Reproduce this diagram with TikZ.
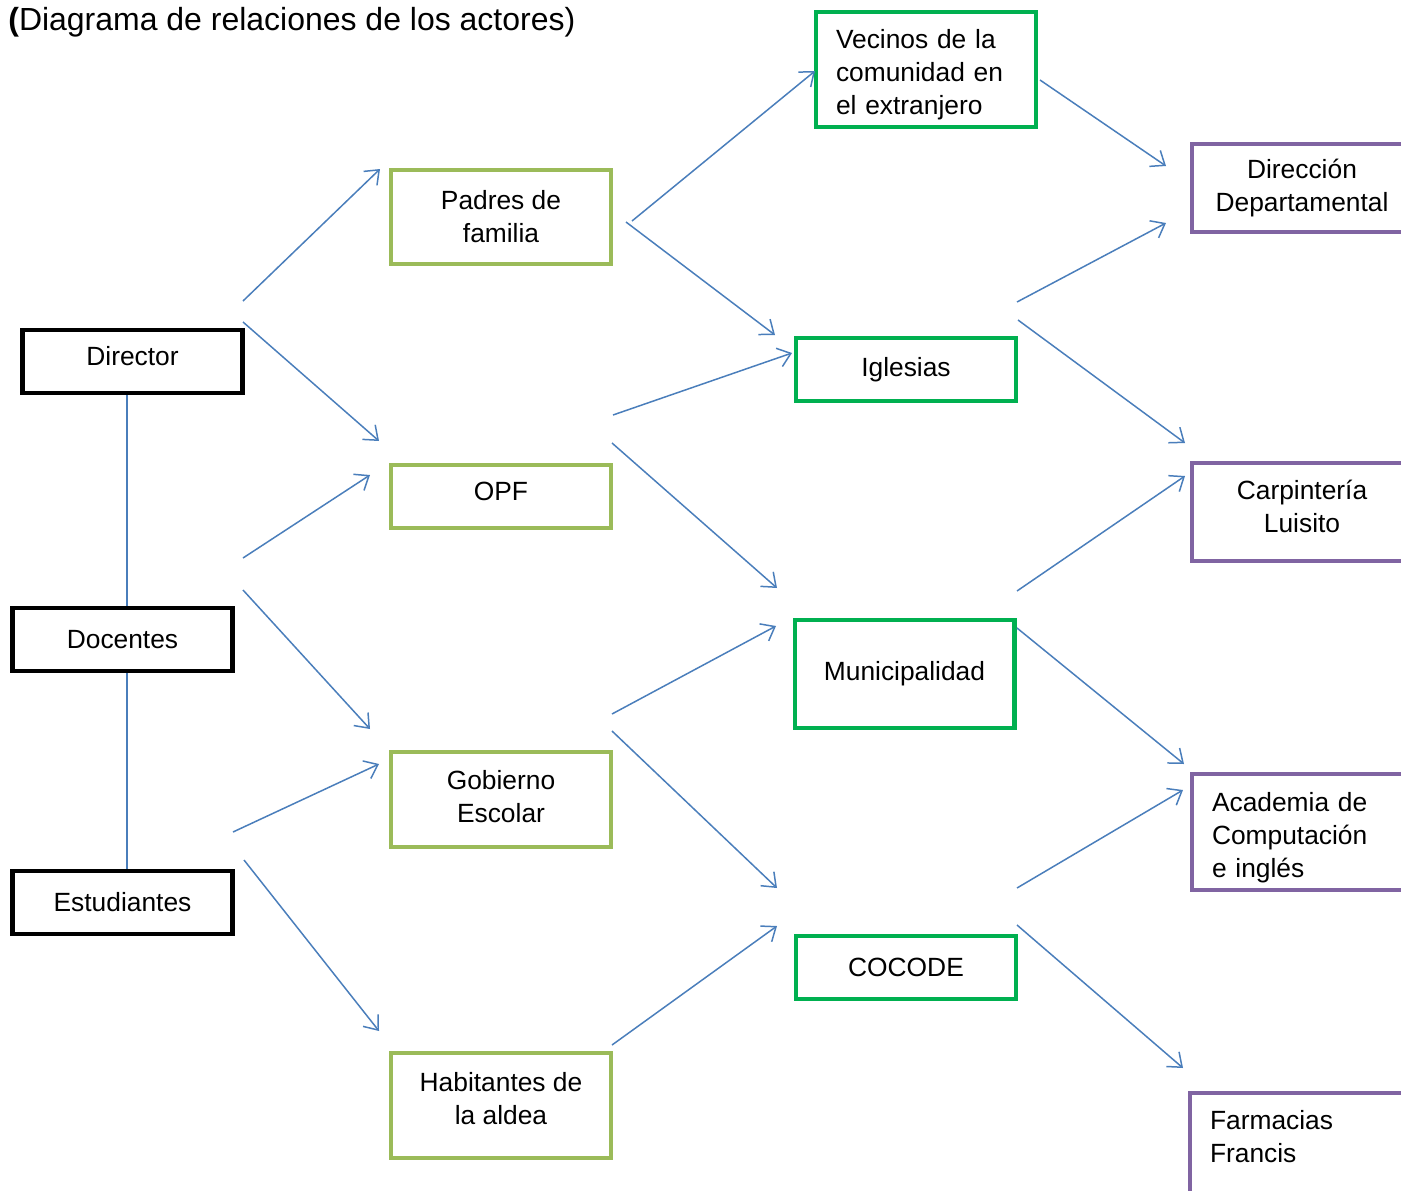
\documentclass[tikz,border=0pt]{standalone}
\usepackage{fontspec}
\setmainfont{Liberation Sans}
\usepackage{xcolor}
\usepackage{tikz}
\usetikzlibrary{positioning}
\usetikzlibrary{arrows.meta}

\definecolor{linkblue}{HTML}{4A7EBB}
\definecolor{leafgreen}{HTML}{9BBB59}
\definecolor{brightgreen}{HTML}{00B050}
\definecolor{lilac}{HTML}{8064A2}

\tikzset{
	actor/.style={draw,minimum width=4.4cm,minimum height=1.26cm,align=center,inner sep=2pt,
		font=\fontsize{15}{18.7}\selectfont},
	school/.style={actor,line width=2.8pt,draw=black},
	family/.style={actor,line width=2.2pt,draw=leafgreen},
	local/.style={actor,line width=2.3pt,draw=brightgreen},
	outside/.style={actor,line width=2.4pt,draw=lilac},
	leftbox/.style={text width=3.6cm,inner xsep=0.4cm,align=left},
	link/.style={linkblue,line width=0.85pt},
	relation/.style={link,-{Straight Barb[length=7pt,width=11pt]}}
}

\begin{document}
\begin{tikzpicture}[x=0.02cm,y=-0.02cm]
	\useasboundingbox (0,0) rectangle (1401,1191);
	\clip (0,0) rectangle (1401,1191);

	\node (title) [anchor=base west,inner sep=0pt,font=\fontsize{18.2}{22}\selectfont] at (8,30)
		{{\bfseries (}Diagrama de relaciones de los actores)};

	% escuela
	\node (director)	[school,text depth=6pt]	at (132.5,361.5)	{Director};
	\node (docentes)	[school]	at (122.5,639.5)	{Docentes};
	\node (estudiantes)	[school]	at (122.5,902.5)	{Estudiantes};

	% comunidad educativa
	\node (padres)		[family,minimum height=1.88cm]					at (501,217)	{Padres de\\familia};
	\node (opf)			[family,text depth=6pt]							at (501,496.5)	{OPF};
	\node (gobierno)	[family,minimum height=1.9cm,text depth=3.4pt]	at (501,799.5)	{Gobierno\\Escolar};
	\node (habitantes)	[family,minimum height=2.1cm,text depth=8pt]	at (501,1105.5)	{Habitantes de\\la aldea};

	% comunidad local
	\node (vecinos)		[local,leftbox,minimum height=2.3cm,text depth=35pt]	at (926,69.5)	{Vecinos de la\\comunidad en\\el extranjero};
	\node (iglesias)	[local]													at (906,369.5)	{Iglesias};
	\node (muni)		[local,minimum height=2.16cm]							at (904.5,674)	{Municipalidad};
	\node (cocode)		[local]													at (906,967.5)	{COCODE};

	% instituciones
	\node (direccion)	[outside,minimum height=1.76cm]							at (1302,188)	{Dirección\\Departamental};
	\node (carpinteria)	[outside,minimum height=1.96cm,text depth=6.8pt]		at (1302,512)	{Carpintería\\Luisito};
	\node (academia)	[outside,leftbox,minimum height=2.32cm,text depth=33.8pt]	at (1302,832)	{Academia de\\Computación\\e inglés};
	\node (farmacias)	[outside,leftbox,minimum height=2.4cm]					at (1300,1153)	{Farmacias\\Francis\\~};

	\coordinate (spine) at (127,0);
	\draw [link] (director.south -| spine) -- (docentes.north -| spine);
	\draw [link] (docentes.south -| spine) -- (estudiantes.north -| spine);

	% extremos de las flechas
	\foreach \n/\a/\b/\c/\d in {
			1/243/301/380/169,	2/243/322/379/441,	3/243/558/370/475,	4/243/590/370/729,
			5/233/832/379/764,	6/244/860/379/1031,	7/632/221/815/71,	8/626/222/775/335,
			9/613/415/792/353,	10/612/443/777/588,	11/612/714/776/626,	12/612/731/777/888,
			13/612/1045/777/926,14/1040/80/1166/166,	15/1017/302/1166/223,16/1018/320/1185/443,
			17/1017/591/1185/476,18/1017/628/1184/764,19/1017/888/1183/790,20/1017/925/1183/1068}{
		\coordinate (from\n) at (\a,\b);
		\coordinate (to\n) at (\c,\d);
	}
	\foreach \n in {1,...,20}
		\draw [relation] (from\n) -- (to\n);
\end{tikzpicture}
\end{document}
